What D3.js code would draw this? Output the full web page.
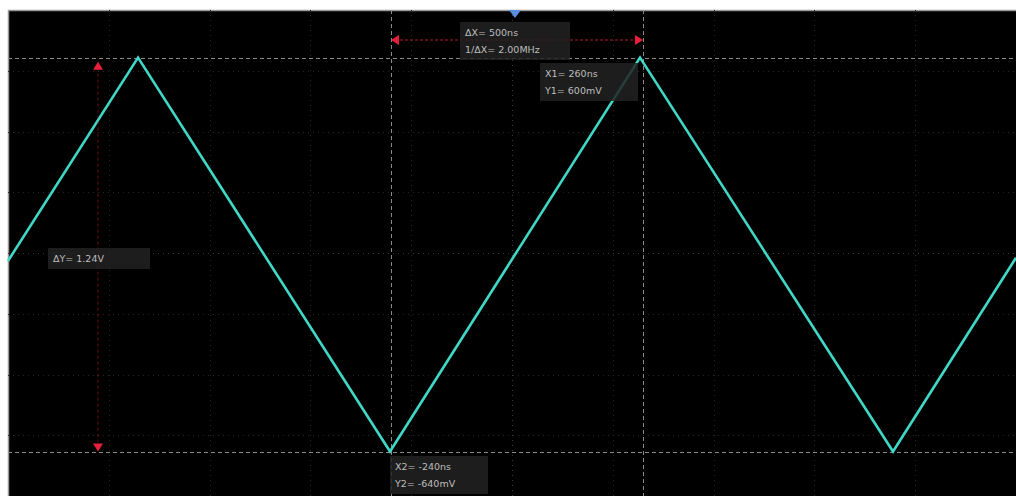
<!DOCTYPE html>
<html><head><meta charset="utf-8">
<script src="https://cdn.jsdelivr.net/npm/d3@7"></script>
<style>
html,body{margin:0;padding:0;background:#fff;}
svg{display:block;}
text{font-family:"DejaVu Sans",sans-serif;}
</style></head>
<body>
<svg id="c" width="1016" height="496"></svg>
<script>
// ---- data ----
const traceTimes  = [-1000, -742, -242, 254, 756, 1000];   // ns
const traceValues = [-40, 600, -640, 600, -640, -30];       // mV
const cursorX = [260, -240];   // X1, X2 (ns)
const cursorY = [600, -640];   // Y1, Y2 (mV)
const xDivisions = 10;
const yDivisions = 8;
const labelDX = ["ΔX= 500ns", "1/ΔX= 2.00MHz"];
const labelX1 = ["X1= 260ns", "Y1= 600mV"];
const labelDY = ["ΔY= 1.24V"];
const labelX2 = ["X2= -240ns", "Y2= -640mV"];

// ---- layout ----
const svg = d3.select("#c");
const L = 8, T = 10, R = 1016, B = 496;
const x = d3.scaleLinear().domain([-1000, 1000]).range([L, R]);
const y = d3.scaleLinear().domain([-780, 750]).range([B, T]);

svg.append("rect").attr("x", L).attr("y", T).attr("width", R - L).attr("height", B - T).attr("fill", "#000");
svg.append("line").attr("x1", L).attr("x2", R).attr("y1", T + 0.5).attr("y2", T + 0.5).attr("stroke", "#999").attr("stroke-width", 1.5);
svg.append("line").attr("x1", L + 0.5).attr("x2", L + 0.5).attr("y1", T).attr("y2", B).attr("stroke", "#999").attr("stroke-width", 1.5);

// grid
const g = svg.append("g");
const xStep = (x.domain()[1] - x.domain()[0]) / xDivisions;
const yStep = (y.domain()[1] - y.domain()[0]) / yDivisions;
const xs = d3.range(1, xDivisions).map(i => x.domain()[0] + i * xStep);
const ys = d3.range(1, yDivisions).map(i => y.domain()[0] + i * yStep);
g.selectAll(".vg").data(xs).join("line")
  .attr("x1", d => Math.round(x(d)) + 0.5).attr("x2", d => Math.round(x(d)) + 0.5)
  .attr("y1", T).attr("y2", B)
  .attr("stroke", d => Math.abs(d) < 1 ? "#3a3a3a" : "#262626").attr("stroke-width", 1)
  .attr("stroke-dasharray", "1,4");
g.selectAll(".hg").data(ys).join("line")
  .attr("y1", d => Math.round(y(d)) + 0.5).attr("y2", d => Math.round(y(d)) + 0.5)
  .attr("x1", L).attr("x2", R)
  .attr("stroke", (d, i) => i === 3 ? "#3a3a3a" : "#262626").attr("stroke-width", 1)
  .attr("stroke-dasharray", "1,4");

// cursor lines
svg.selectAll(".cx").data(cursorX).join("line")
  .attr("x1", d => Math.round(x(d)) + 0.5).attr("x2", d => Math.round(x(d)) + 0.5)
  .attr("y1", T).attr("y2", B)
  .attr("stroke", "#8a8a8a").attr("stroke-width", 1).attr("stroke-dasharray", "4,3");
svg.selectAll(".cy").data(cursorY).join("line")
  .attr("y1", d => Math.round(y(d)) + 0.5).attr("y2", d => Math.round(y(d)) + 0.5)
  .attr("x1", L).attr("x2", R)
  .attr("stroke", "#8a8a8a").attr("stroke-width", 1).attr("stroke-dasharray", "4,3");

// trace
const pts = traceTimes.map((t, i) => [t, traceValues[i]]);
svg.append("path").datum(pts)
  .attr("d", d3.line().x(d => x(d[0])).y(d => y(d[1])))
  .attr("fill", "none").attr("stroke", "#3fd8c6").attr("stroke-width", 2.6)
  .attr("stroke-linejoin", "miter");

// red ΔX measurement
const red = "#e8203c";
const xa = x(d3.min(cursorX)), xb = x(d3.max(cursorX)), ym = 40;
svg.append("line").attr("x1", xa + 4).attr("x2", xb - 4).attr("y1", ym).attr("y2", ym)
  .attr("stroke", red).attr("stroke-width", 1).attr("stroke-dasharray", "3,2").attr("opacity", 0.8);
svg.append("path").attr("d", `M${xa},${ym} l8,-5 l0,10 z`).attr("fill", red);
svg.append("path").attr("d", `M${xb},${ym} l-8,-5 l0,10 z`).attr("fill", red);

// red ΔY measurement
const xm = 98, ya = y(d3.max(cursorY)) + 10, yb = y(d3.min(cursorY)) - 6;
svg.append("line").attr("x1", xm).attr("x2", xm).attr("y1", ya).attr("y2", yb)
  .attr("stroke", red).attr("stroke-width", 1).attr("stroke-dasharray", "3,3").attr("opacity", 0.45);
svg.append("path").attr("d", `M${xm},${ya - 6} l-5,8 l10,0 z`).attr("fill", red);
svg.append("path").attr("d", `M${xm},${yb + 6} l-5,-8 l10,0 z`).attr("fill", red);

// trigger marker
svg.append("path").attr("d", `M${x(0) + 3},${T + 8} l-6,-8 l12,0 z`).attr("fill", "#5a8fe0");

// label boxes
function box(x0, y0, lines, w) {
  const h = lines.length * 17 + 4;
  svg.append("rect").attr("x", x0).attr("y", y0).attr("width", w).attr("height", h)
    .attr("fill", "#222").attr("opacity", 0.85);
  lines.forEach((s, i) => {
    svg.append("text").attr("x", x0 + 5).attr("y", y0 + 14 + i * 17)
      .attr("fill", "#bdbdbd").attr("font-size", 9.5).text(s);
  });
}
box(460, 22, labelDX, 110);
box(540, 63, labelX1, 98);
box(48, 248, labelDY, 102);
box(390, 456, labelX2, 98);
</script>
</body></html>
